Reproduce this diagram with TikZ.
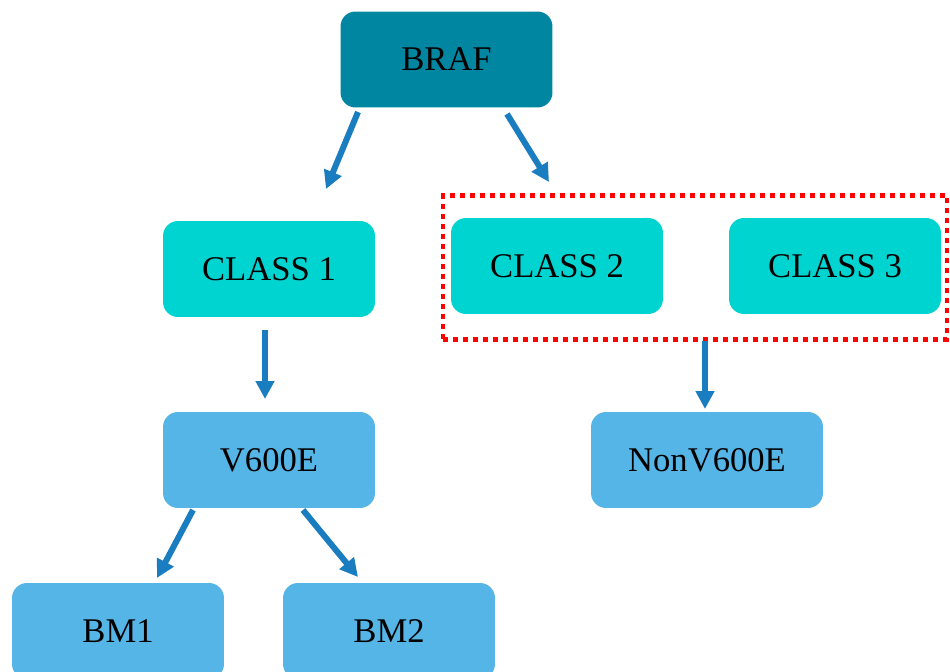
\documentclass[tikz,border=0pt]{standalone}
\usepackage{fontspec}
\setmainfont{Liberation Serif}
\usetikzlibrary{arrows.meta}
\definecolor{brafc}{HTML}{0086A1}
\definecolor{classc}{HTML}{00D4D1}
\definecolor{mutc}{HTML}{56B5E7}
\definecolor{arrc}{HTML}{1A7DC0}
\definecolor{redc}{HTML}{FF0000}
\tikzset{
  box/.style={rounded corners=0.3cm, minimum width=4.24cm, minimum height=1.92cm,
    inner sep=0pt, font=\fontsize{19.7}{23}\selectfont, text=black},
  brafbox/.style={box, fill=brafc},
  classbox/.style={box, fill=classc},
  mutbox/.style={box, fill=mutc},
  arr/.style={draw=arrc, line width=0.12cm, -{Triangle[length=0.36cm, width=0.36cm]}},
}
\begin{document}
\begin{tikzpicture}[x=0.02cm, y=-0.02cm]
\clip (0,0) rectangle (950,672);
\fill[white] (0,0) rectangle (950,672);
\node[brafbox] (braf) at (446.5,59.5) {BRAF};
\node[classbox] (c1) at (269,269) {CLASS 1};
\node[classbox] (c2) at (557,266) {CLASS 2};
\node[classbox] (c3) at (835,266) {CLASS 3};
\node[mutbox] (v600e) at (269,460) {V600E};
\node[mutbox, minimum width=4.64cm] (nonv) at (707,460) {NonV600E};
\node[mutbox] (bm1) at (118,631) {BM1};
\node[mutbox] (bm2) at (389,631) {BM2};
\node[draw=redc, line width=0.09cm, dash pattern=on 0.1cm off 0.1cm, inner sep=0pt,
  minimum width=10.08cm, minimum height=2.88cm] (grp) at (695,267.5) {};
\coordinate (a1s) at (358,112); \coordinate (a1e) at (326,189);
\coordinate (a2s) at (507,114); \coordinate (a2e) at (549,182);
\coordinate (a3s) at (265,330); \coordinate (a3e) at (265,399);
\coordinate (a4s) at (705,341); \coordinate (a4e) at (705,409);
\coordinate (a5s) at (193,510); \coordinate (a5e) at (157,578);
\coordinate (a6s) at (303,510); \coordinate (a6e) at (358,577);
\draw[arr] (a1s) -- (a1e);
\draw[arr] (a2s) -- (a2e);
\draw[arr] (a3s) -- (a3e);
\draw[arr] (a4s) -- (a4e);
\draw[arr] (a5s) -- (a5e);
\draw[arr] (a6s) -- (a6e);
\end{tikzpicture}
\end{document}
